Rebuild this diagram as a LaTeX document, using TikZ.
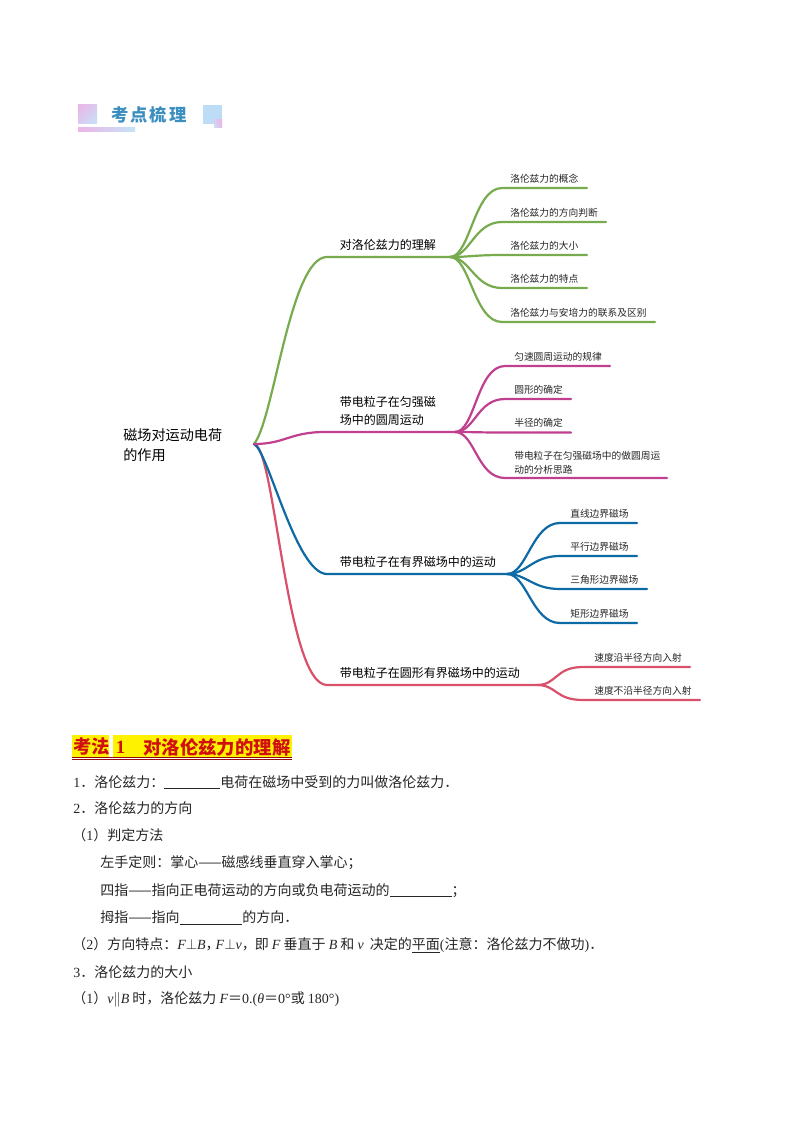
\documentclass[tikz,border=0pt]{standalone}
\usepackage{fontspec}
\setmainfont{Liberation Serif}
\newfontfamily\cjk{Noto Sans CJK SC}
\usetikzlibrary{calc,shadings}
\definecolor{mgreen}{HTML}{77AB4E}
\definecolor{mpink}{HTML}{C0408F}
\definecolor{mblue}{HTML}{0E6AA5}
\definecolor{mred}{HTML}{D9506A}
\definecolor{hdblue}{HTML}{3B8FC0}
\definecolor{sqpink}{HTML}{EDB4E6}
\definecolor{sqblue}{HTML}{C4E4F8}
\definecolor{sqmid}{HTML}{D8CCF0}
\definecolor{sqright}{HTML}{BDDCF5}
\definecolor{headred}{HTML}{D01010}
\definecolor{headyellow}{HTML}{FFF200}
\newcommand{\lat}[1]{{\rmfamily #1}}
\newcommand{\ita}[1]{{\rmfamily\itshape #1}}
\newcommand{\blank}[1]{\rule[-1.2pt]{#1}{0.45pt}}
% branch: colour, fork, bend end, line end
\newcommand{\forkline}[4]{\draw[mapline,#1] (#2) .. controls ($(#2)+(20,0)$) and ($(#3)+(-28,0)$) .. (#3) -- (#4);}
\tikzset{
  mapline/.style={line width=1.65pt,line cap=round},
  rootlabel/.style={anchor=west,inner sep=0pt,font=\cjk\fontsize{10.6}{15}\selectfont,align=left},
  mainlabel/.style={anchor=west,inner sep=0pt,font=\cjk\fontsize{9}{13.5}\selectfont,align=left},
  leaflabel/.style={anchor=west,inner sep=0pt,yshift=-0.5pt,font=\cjk\fontsize{7.3}{10.2}\selectfont,align=left,text=black!85},
  bodyline/.style={anchor=west,inner sep=0pt,font=\cjk\fontsize{10.5}{13}\selectfont,text=black!85},
  headtext/.style={anchor=west,inner sep=0pt,font=\cjk\bfseries\fontsize{13.8}{16}\selectfont,text=headred},
}
\begin{document}
\begin{tikzpicture}[x=0.75pt,y=-0.75pt]
\useasboundingbox (0,0) rectangle (794,1123);
\fill[white] (0,0) rectangle (794,1123);

% section banner
\shade[upper left=sqpink,lower right=sqblue,upper right=sqmid,lower left=sqmid] (78,105) rectangle (97,124);
\shade[left color=sqpink,right color=sqblue] (78,128) rectangle (135,131.5);
\fill[sqright] (203,105) rectangle (222,124);
\shade[upper left=sqmid,lower right=sqpink,upper right=sqpink,lower left=sqblue] (214,120) rectangle (222,128);
\node[anchor=west,inner sep=0pt,font=\cjk\bfseries\fontsize{13}{14}\selectfont,text=hdblue] (banner) at (111,115) {考\hspace{1.5pt}点\hspace{1.5pt}梳\hspace{1.5pt}理};

% map junctions
\coordinate (root) at (254,444);
\coordinate (ga) at (327,257); \coordinate (gf) at (450,257);
\coordinate (pa) at (325,432); \coordinate (pf) at (455,432);
\coordinate (ba) at (327,574); \coordinate (bf) at (507,574);
\coordinate (ra) at (327,685); \coordinate (rf) at (537,685);

\coordinate (g1b) at (502,188); \coordinate (g1e) at (587,188);
\coordinate (g2b) at (502,222); \coordinate (g2e) at (606,222);
\coordinate (g3b) at (502,255); \coordinate (g3e) at (587,255);
\coordinate (g4b) at (502,288); \coordinate (g4e) at (587,288);
\coordinate (g5b) at (502,322); \coordinate (g5e) at (655,322);

\coordinate (p1b) at (505,366); \coordinate (p1e) at (610,366);
\coordinate (p2b) at (505,399); \coordinate (p2e) at (571,399);
\coordinate (p3b) at (505,432.5); \coordinate (p3e) at (571,432.5);
\coordinate (p4b) at (505,478); \coordinate (p4e) at (667,478);

\coordinate (b1b) at (560,523); \coordinate (b1e) at (637,523);
\coordinate (b2b) at (560,556); \coordinate (b2e) at (637,556);
\coordinate (b3b) at (560,589); \coordinate (b3e) at (647,589);
\coordinate (b4b) at (560,623); \coordinate (b4e) at (637,623);

\coordinate (r1b) at (583,667); \coordinate (r1e) at (690,667);
\coordinate (r2b) at (583,700); \coordinate (r2e) at (700,700);

% map connectors
\draw[mapline,mgreen] (root) .. controls (274,420) and (290,257) .. (ga) -- (gf);
\draw[mapline,mred] (root) .. controls (275,445) and (286,685) .. (ra) -- (rf);
\draw[mapline,mblue] (root) .. controls (268,450) and (296,574) .. (ba) -- (bf);
\draw[mapline,mpink] (root) .. controls (285,444) and (290,432) .. (pa) -- (pf);

\forkline{mgreen}{gf}{g1b}{g1e}
\forkline{mgreen}{gf}{g2b}{g2e}
\forkline{mgreen}{gf}{g3b}{g3e}
\forkline{mgreen}{gf}{g4b}{g4e}
\forkline{mgreen}{gf}{g5b}{g5e}
\forkline{mpink}{pf}{p1b}{p1e}
\forkline{mpink}{pf}{p2b}{p2e}
\forkline{mpink}{pf}{p3b}{p3e}
\forkline{mpink}{pf}{p4b}{p4e}
\forkline{mblue}{bf}{b1b}{b1e}
\forkline{mblue}{bf}{b2b}{b2e}
\forkline{mblue}{bf}{b3b}{b3e}
\forkline{mblue}{bf}{b4b}{b4e}
\forkline{mred}{rf}{r1b}{r1e}
\forkline{mred}{rf}{r2b}{r2e}

% map labels
\node[rootlabel] (troot) at (123,445) {磁场对运动电荷\\的作用};
\node[mainlabel] (tg) at (339.5,244.5) {对洛伦兹力的理解};
\node[mainlabel] (tp) at (339.5,411) {带电粒子在匀强磁\\场中的圆周运动};
\node[mainlabel] (tb) at (339.5,562) {带电粒子在有界磁场中的运动};
\node[mainlabel] (tr) at (339.5,673) {带电粒子在圆形有界磁场中的运动};

\node[leaflabel] (lg1) at (510,178) {洛伦兹力的概念};
\node[leaflabel] (lg2) at (510,212) {洛伦兹力的方向判断};
\node[leaflabel] (lg3) at (510,245) {洛伦兹力的大小};
\node[leaflabel] (lg4) at (510,278.5) {洛伦兹力的特点};
\node[leaflabel] (lg5) at (510,312) {洛伦兹力与安培力的联系及区别};

\node[leaflabel] (lp1) at (514,356) {匀速圆周运动的规律};
\node[leaflabel] (lp2) at (514,389.5) {圆形的确定};
\node[leaflabel] (lp3) at (514,422.5) {半径的确定};
\node[leaflabel] (lp4) at (514,462) {带电粒子在匀强磁场中的做圆周运\\动的分析思路};

\node[leaflabel] (lb1) at (570,513) {直线边界磁场};
\node[leaflabel] (lb2) at (570,546.5) {平行边界磁场};
\node[leaflabel] (lb3) at (570,579.5) {三角形边界磁场};
\node[leaflabel] (lb4) at (570,613) {矩形边界磁场};

\node[leaflabel] (lr1) at (594,657) {速度沿半径方向入射};
\node[leaflabel] (lr2) at (594,690.5) {速度不沿半径方向入射};

% heading
\fill[headyellow] (72,735) rectangle (109,758);
\fill[headyellow] (113,735) rectangle (292,758);
\node[headtext] (h1) at (73,747) {考法};
\node[headtext,font=\rmfamily\bfseries\fontsize{14}{16}\selectfont] (h2) at (115.5,747) {1};
\node[headtext] (h3) at (143,747) {对洛伦兹力的理解};
\draw[headred!70!black,line width=0.6pt] (72,757) -- (292,757);
\draw[headred!70!black,line width=0.6pt] (72,759) -- (292,759);

% body text
\node[bodyline] (l1) at (73,782) {\lat{1}．洛伦兹力：\blank{42pt}电荷在磁场中受到的力叫做洛伦兹力．};
\node[bodyline] (l2) at (73,808.5) {\lat{2}．洛伦兹力的方向};
\node[bodyline] (l3) at (72,835) {（\lat{1}）判定方法};
\node[bodyline] (l4) at (100,863) {左手定则：掌心——磁感线垂直穿入掌心；};
\node[bodyline] (l5) at (100,890.5) {四指——指向正电荷运动的方向或负电荷运动的\blank{46.5pt}；};
\node[bodyline] (l6) at (100,917.5) {拇指——指向\blank{47pt}的方向．};
\node[bodyline] (l7) at (72,945) {（\lat{2}）方向特点：\ita{F}$\perp$\ita{B}，\hspace{-3pt}\ita{F}$\perp$\ita{v}，\hspace{-0.75pt}即 \ita{F} 垂直于 \ita{B} 和 \ita{v}\hspace{2.25pt} 决定的\underline{平面}\lat{(}注意：洛伦兹力不做功\lat{)}．};
\node[bodyline] (l8) at (73,972) {\lat{3}．洛伦兹力的大小};
\node[bodyline] (l9) at (72,999.5) {（\lat{1}）\ita{v}$\parallel$\ita{B} 时，洛伦兹力 \ita{F}＝\lat{0.(}\ita{θ}＝\lat{0°}或 \lat{180°)}};
\end{tikzpicture}
\end{document}
